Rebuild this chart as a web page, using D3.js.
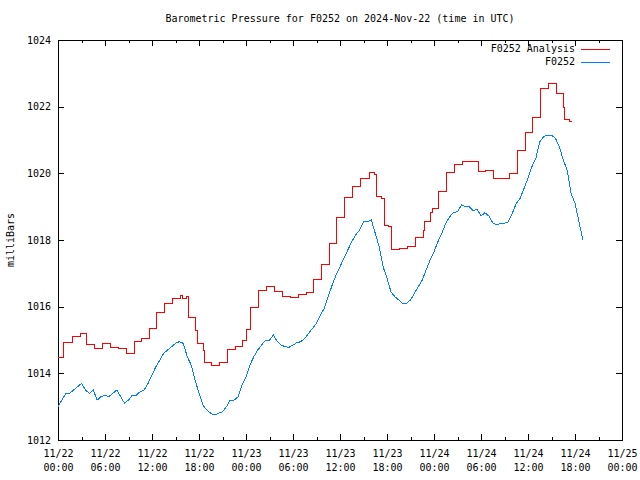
<!DOCTYPE html>
<html>
<head>
<meta charset="utf-8">
<script src="https://cdn.jsdelivr.net/npm/d3@7"></script>
<style>
  body { margin: 0; background: #fff; }
  svg { display: block; font-family: "DejaVu Sans Mono", monospace; font-size: 10px; }
</style>
</head>
<body>
<div id="chart"></div>
<script>
// hours after 11/22 00:00 UTC where the analysis steps, and its value from there
const redHours = [0, 0.68, 1.83, 2.85, 3.70, 4.63, 5.71, 6.64, 7.70, 8.72, 9.74, 10.69, 11.71, 12.60,
    13.60, 14.68, 15.70, 15.87, 16.43, 16.63, 17.60, 17.75, 18.60, 18.75, 19.62, 20.60, 21.60, 22.60,
    23.60, 24.00, 24.62, 25.62, 26.64, 27.58, 28.64, 29.62, 30.64, 31.66, 32.68, 33.67, 34.69, 35.58,
    36.60, 37.57, 38.64, 39.74, 40.43, 40.69, 41.33, 41.62, 42.22, 42.60, 43.60, 44.60, 45.60, 46.60,
    46.75, 47.60, 47.75, 48.60, 49.60, 50.60, 51.60, 53.66, 54.55, 55.57, 57.58, 58.60, 59.66, 60.60,
    61.62, 62.59, 63.58, 64.51, 64.65, 65.24, 65.58];
const redValues = [1014.48, 1014.93, 1015.11, 1015.20, 1014.87, 1014.75, 1014.90, 1014.79, 1014.75, 1014.61,
    1014.96, 1015.05, 1015.35, 1015.83, 1016.10, 1016.25, 1016.34, 1016.25, 1016.31, 1015.68, 1015.30,
    1014.89, 1014.70, 1014.34, 1014.25, 1014.34, 1014.73, 1014.82, 1015.00, 1015.33, 1015.99, 1016.49,
    1016.60, 1016.47, 1016.31, 1016.29, 1016.37, 1016.44, 1016.83, 1017.27, 1017.90, 1018.68, 1019.28,
    1019.62, 1019.85, 1020.03, 1019.97, 1019.32, 1019.24, 1018.45, 1018.41, 1017.73, 1017.75, 1017.81,
    1018.08, 1018.30, 1018.56, 1018.84, 1018.95, 1019.46, 1020.03, 1020.27, 1020.36, 1020.06, 1020.09,
    1019.85, 1019.99, 1020.69, 1021.24, 1021.68, 1022.55, 1022.71, 1022.41, 1021.98, 1021.62, 1021.56,
    1021.56];

// station readings, one every half hour from 11/22 00:00 UTC
const blueValues = [1013.0, 1013.2, 1013.4, 1013.4, 1013.5, 1013.6, 1013.7, 1013.5, 1013.4, 1013.5,
    1013.2, 1013.3, 1013.35, 1013.3, 1013.4, 1013.5, 1013.3, 1013.1, 1013.2, 1013.35,
    1013.35, 1013.45, 1013.5, 1013.7, 1013.95, 1014.2, 1014.4, 1014.6, 1014.7, 1014.8,
    1014.9, 1014.95, 1014.9, 1014.5, 1014.25, 1013.8, 1013.4, 1013.05, 1012.9, 1012.8,
    1012.75, 1012.8, 1012.85, 1013.0, 1013.2, 1013.2, 1013.3, 1013.65, 1013.9, 1014.25,
    1014.5, 1014.7, 1014.85, 1015.0, 1015.0, 1015.15, 1014.95, 1014.85, 1014.8, 1014.78,
    1014.85, 1014.92, 1014.95, 1015.05, 1015.2, 1015.35, 1015.5, 1015.75, 1015.95, 1016.3,
    1016.65, 1016.95, 1017.2, 1017.45, 1017.7, 1017.95, 1018.15, 1018.3, 1018.55, 1018.55,
    1018.6, 1018.2, 1017.8, 1017.2, 1016.85, 1016.45, 1016.3, 1016.2, 1016.1, 1016.1,
    1016.2, 1016.4, 1016.6, 1016.8, 1017.1, 1017.4, 1017.65, 1017.95, 1018.2, 1018.5,
    1018.7, 1018.82, 1018.85, 1019.05, 1019.0, 1019.0, 1018.88, 1018.92, 1018.72, 1018.82,
    1018.72, 1018.52, 1018.45, 1018.5, 1018.5, 1018.55, 1018.8, 1019.1, 1019.25, 1019.55,
    1019.85, 1020.2, 1020.45, 1020.95, 1021.1, 1021.15, 1021.15, 1021.05, 1020.8, 1020.4,
    1020.1, 1019.4, 1019.1, 1018.55, 1018.0];

const yTicks = [1012, 1014, 1016, 1018, 1020, 1022, 1024];
const seriesNames = ["F0252 Analysis", "F0252"];
const seriesColors = ["#ff0000", "#0080ff"];

const width = 640, height = 480;
const margin = {top: 40, right: 18, bottom: 40, left: 58};
const start = new Date(Date.UTC(2024, 10, 22));
const end = new Date(Date.UTC(2024, 10, 25));
const atHour = h => new Date(start.getTime() + h * 36e5);

const redData = redHours.map((h, i) => ({time: atHour(h), value: redValues[i]}));
const blueData = blueValues.map((v, i) => ({time: atHour(i * 0.5), value: v}));

const svg = d3.select("#chart").append("svg")
    .attr("width", width)
    .attr("height", height);

const x = d3.scaleUtc().domain([start, end]).range([margin.left, width - margin.right]);
const y = d3.scaleLinear().domain([1012, 1024]).range([height - margin.bottom, margin.top]);

const fmtDay = d3.utcFormat("%m/%d");
const fmtTime = d3.utcFormat("%H:%M");

// minor ticks every 3 hours, top and bottom
const minor = d3.utcHour.every(3).range(start, end);
svg.append("g")
    .attr("transform", `translate(0,${height - margin.bottom})`)
    .call(d3.axisBottom(x).tickValues(minor).tickSizeInner(-3).tickSizeOuter(0).tickFormat(""))
    .call(g => g.select(".domain").remove());
svg.append("g")
    .attr("transform", `translate(0,${margin.top})`)
    .call(d3.axisTop(x).tickValues(minor).tickSizeInner(-3).tickSizeOuter(0).tickFormat(""))
    .call(g => g.select(".domain").remove());

const major = d3.utcHour.every(6).range(start, d3.utcHour.offset(end, 1));
const xAxis = svg.append("g")
    .attr("transform", `translate(0,${height - margin.bottom})`)
    .call(d3.axisBottom(x).tickValues(major).tickSizeInner(-6).tickSizeOuter(0).tickPadding(10).tickFormat(""));
xAxis.select(".domain").remove();
xAxis.selectAll(".tick text")
    .attr("fill", "#000")
    .attr("dy", null)
    .style("font-size", "10px")
    .style("font-family", "'DejaVu Sans Mono', monospace")
    .each(function(d) {
        const t = d3.select(this);
        t.append("tspan").attr("x", 0).attr("dy", "0.72em").text(fmtDay(d));
        t.append("tspan").attr("x", 0).attr("dy", "1.35em").text(fmtTime(d));
    });
svg.append("g")
    .attr("transform", `translate(0,${margin.top})`)
    .call(d3.axisTop(x).tickValues(major).tickSizeInner(-6).tickSizeOuter(0).tickFormat(""))
    .call(g => g.select(".domain").remove());

const yAxis = svg.append("g")
    .attr("transform", `translate(${margin.left},0)`)
    .call(d3.axisLeft(y).tickValues(yTicks).tickSizeInner(-6).tickSizeOuter(0).tickPadding(7).tickFormat(d3.format("d")));
yAxis.select(".domain").remove();
yAxis.selectAll(".tick text")
    .attr("fill", "#000")
    .style("font-size", "10px")
    .style("font-family", "'DejaVu Sans Mono', monospace");
svg.append("g")
    .attr("transform", `translate(${width - margin.right},0)`)
    .call(d3.axisRight(y).tickValues(yTicks).tickSizeInner(-6).tickSizeOuter(0).tickFormat(""))
    .call(g => g.select(".domain").remove());

svg.selectAll(".tick line").attr("stroke", "#000").attr("shape-rendering", "crispEdges");

// border
svg.append("rect")
    .attr("x", margin.left)
    .attr("y", margin.top)
    .attr("width", width - margin.left - margin.right)
    .attr("height", height - margin.top - margin.bottom)
    .attr("fill", "none")
    .attr("stroke", "#000")
    .attr("shape-rendering", "crispEdges");

const line = d3.line().x(d => x(d.time)).y(d => y(d.value));

svg.append("path")
    .datum(redData)
    .attr("fill", "none")
    .attr("stroke", seriesColors[0])
    .attr("stroke-width", 1)
    .attr("shape-rendering", "crispEdges")
    .attr("d", line.curve(d3.curveStepAfter));

svg.append("path")
    .datum(blueData)
    .attr("fill", "none")
    .attr("stroke", seriesColors[1])
    .attr("stroke-width", 1)
    .attr("shape-rendering", "crispEdges")
    .attr("d", line.curve(d3.curveLinear));

// title and y label
svg.append("text")
    .attr("x", 340)
    .attr("y", 19)
    .attr("text-anchor", "middle")
    .attr("dominant-baseline", "middle")
    .text("Barometric Pressure for F0252 on 2024-Nov-22 (time in UTC)");

svg.append("text")
    .attr("transform", `translate(11,${(margin.top + height - margin.bottom) / 2}) rotate(-90)`)
    .attr("text-anchor", "middle")
    .attr("dominant-baseline", "middle")
    .text("milliBars");

// legend
const legend = svg.append("g").selectAll("g")
    .data(seriesNames)
    .join("g")
    .attr("transform", (d, i) => `translate(0,${49 + i * 13})`);
legend.append("text")
    .attr("x", 575)
    .attr("text-anchor", "end")
    .attr("dominant-baseline", "middle")
    .text(d => d);
legend.append("line")
    .attr("x1", 581)
    .attr("x2", 610)
    .attr("stroke", (d, i) => seriesColors[i])
    .attr("shape-rendering", "crispEdges");
</script>
</body>
</html>
